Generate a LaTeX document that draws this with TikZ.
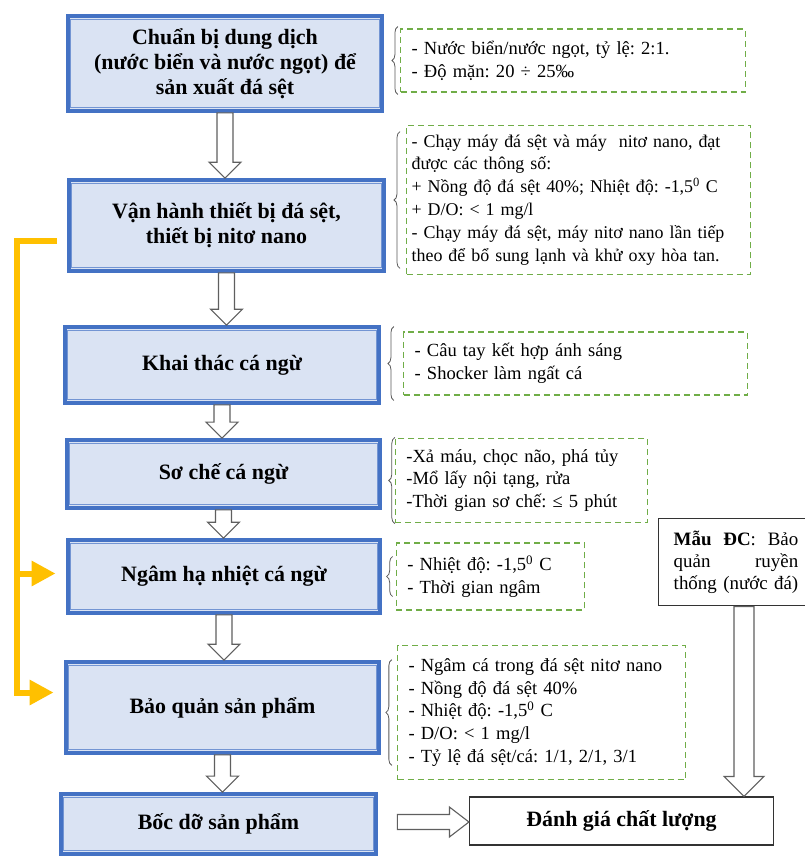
\documentclass[tikz,border=0pt]{standalone}
\usepackage{fontspec}
\setmainfont{Liberation Serif}
\usetikzlibrary{calc,arrows.meta,decorations.pathreplacing}
\frenchspacing

\definecolor{stepblue}{HTML}{4472C4}
\definecolor{stepfill}{HTML}{DAE3F3}
\definecolor{notegreen}{HTML}{70AD47}
\definecolor{railgold}{HTML}{FFC000}
\definecolor{arrowgray}{HTML}{5F5F5F}

% hollow block arrows: [half shaft width]{from}{to}
\newcommand{\hollowdown}[3][8]{%
  \draw[hollow] let \p1=#2, \p2=#3 in
    (\x1-#1pt,\y1) -- (\x1-#1pt,\y2+2*#1pt) -- (\x1-2*#1pt,\y2+2*#1pt) -- (\x1,\y2)
    -- (\x1+2*#1pt,\y2+2*#1pt) -- (\x1+#1pt,\y2+2*#1pt) -- (\x1+#1pt,\y1) -- cycle;}
\newcommand{\hollowright}[3][7.5]{%
  \draw[hollow] let \p1=#2, \p2=#3 in
    (\x1,\y1+#1pt) -- (\x2-2.6*#1pt,\y1+#1pt) -- (\x2-2.6*#1pt,\y1+2*#1pt) -- (\x2,\y1)
    -- (\x2-2.6*#1pt,\y1-2*#1pt) -- (\x2-2.6*#1pt,\y1-#1pt) -- (\x1,\y1-#1pt) -- cycle;}

\tikzset{
  stepbox/.style={draw=stepblue, line width=4bp, fill=stepfill, align=center,
    inner sep=0pt, font=\bfseries\fontsize{22}{25}\selectfont},
  inner line/.style={draw=stepblue!75, line width=1bp},
  note/.style={draw=notegreen, dash pattern=on 6bp off 4bp, line width=1.3bp,
    align=left, inner xsep=11bp, inner ysep=0pt, font=\fontsize{18.6}{23}\selectfont},
  bracket/.style={draw=black!65, line width=0.8bp, decorate, decoration={brace, amplitude=6bp}},
  hollow/.style={draw=arrowgray, fill=white, line width=1.1bp},
  gold/.style={draw=railgold, line width=6bp, -{Triangle[length=24bp,width=24bp]}},
  plainbox/.style={draw=black!80, line width=1.3bp, fill=white},
}

\begin{document}
\begin{tikzpicture}[x=1bp, y=-1bp]
\useasboundingbox (0,0) rectangle (805,857);

% main steps
\node[stepbox, minimum width=316, minimum height=95] (b1) at (225,63.5)
  {Chuẩn bị dung dịch\\(nước biển và nước ngọt) để\\sản xuất đá sệt};
\node[stepbox, minimum width=317, minimum height=91] (b2) at (226.5,225.5)
  {Vận hành thiết bị đá sệt,\\thiết bị nitơ nano};
\node[stepbox, minimum width=316, minimum height=76] (b3) at (222,365) {Khai thác cá ngừ};
\node[stepbox, minimum width=315, minimum height=68] (b4) at (223.5,474) {Sơ chế cá ngừ};
\node[stepbox, minimum width=314, minimum height=73] (b5) at (224,576.5) {Ngâm hạ nhiệt cá ngừ};
\node[stepbox, minimum width=315, minimum height=91] (b6) at (222.5,707.5) {Bảo quản sản phẩm};
\node[stepbox, minimum width=317, minimum height=60] (b7) at (218.5,824) {Bốc dỡ sản phẩm};
\foreach \b in {b1,b2,b3,b4,b5,b6,b7}
  \draw[inner line] ([xshift=5bp,yshift=-5bp]\b.north west) rectangle ([xshift=-5bp,yshift=5bp]\b.south east);

\hollowdown{(b1.south)}{(b2.north)}
\hollowdown{(b2.south)}{(b3.north)}
\hollowdown{(b3.south)}{(b4.north)}
\hollowdown{(b4.south)}{(b5.north)}
\hollowdown{(b5.south)}{(b6.north)}
\hollowdown{(b6.south)}{(b7.north)}

% notes
\node[note, text width=324, minimum height=63] (gA) at (573,60.5)
  {- Nước biển/nước ngọt, tỷ lệ: 2:1.\\- Độ mặn: 20 ÷ 25‰};
\node[note, text width=335, inner xsep=5bp, minimum height=150, font=\fontsize{18}{23}\selectfont] (gB) at (578.5,200)
  {- Chạy máy đá sệt và máy\ \ nitơ nano, đạt\\được các thông số:\\+ Nồng độ đá sệt 40\%; Nhiệt độ: -1,5\textsuperscript{0} C\\+ D/O: < 1 mg/l\\- Chạy máy đá sệt, máy nitơ nano lần tiếp\\theo để bổ sung lạnh và khử oxy hòa tan.};
\node[note, text width=323, minimum height=63] (gC) at (575.5,363.5)
  {- Câu tay kết hợp ánh sáng\\- Shocker làm ngất cá};
\node[note, text width=231, minimum height=85] (gD) at (521.5,480.5)
  {-Xả máu, chọc não, phá tủy\\-Mổ lấy nội tạng, rửa\\-Thời gian sơ chế: ≤ 5 phút};
\node[note, text width=167, minimum height=67] (gE) at (490.5,576.5)
  {- Nhiệt độ: -1,5\textsuperscript{0} C\\- Thời gian ngâm};
\node[note, text width=267, minimum height=135] (gF) at (541.5,712.5)
  {- Ngâm cá trong đá sệt nitơ nano\\- Nồng độ đá sệt 40\%\\- Nhiệt độ: -1,5\textsuperscript{0} C\\- D/O: < 1 mg/l\\- Tỷ lệ đá sệt/cá: 1/1, 2/1, 3/1};
\foreach \n/\s/\d in {gA/-2/2, gB/7/6, gC/-5/9, gD/0/0, gE/14/3, gF/15/5}
  \draw[bracket] ($(\n.south west)+(-\d,-\s)$) -- ($(\n.north west)+(-\d,\s)$);

% control sample and evaluation
\node[plainbox, minimum width=156, minimum height=88, text width=125, inner xsep=15.5bp,
  align=left, font=\fontsize{19}{22}\selectfont] (mau) at (736,562)
  {\textbf{Mẫu}\hfill\textbf{ĐC}:\hfill Bảo\\quản\hfill ruyền\\thống\hfill(nước\hfill đá)};
\node[plainbox, minimum width=305, minimum height=48, font=\bfseries\fontsize{22}{25}\selectfont]
  (eval) at (621.5,821) {Đánh giá chất lượng};
\hollowdown[10]{($(mau.south)+(8,0)$)}{(eval.north)}
\hollowright{($(b7.east)+(19,-2)$)}{(eval.west)}

% nitrogen / slurry ice reuse line
\coordinate (rail) at (17,0);
\path ($(b5.west)+(-10,-3)$) coordinate (t5) ($(b6.west)+(-10,-15)$) coordinate (t6);
\draw[gold] ($(b2.west)+(-10,15)$) -| (rail |- t6) -- (t6);
\draw[gold] (rail |- t5) -- (t5);
\end{tikzpicture}
\end{document}
